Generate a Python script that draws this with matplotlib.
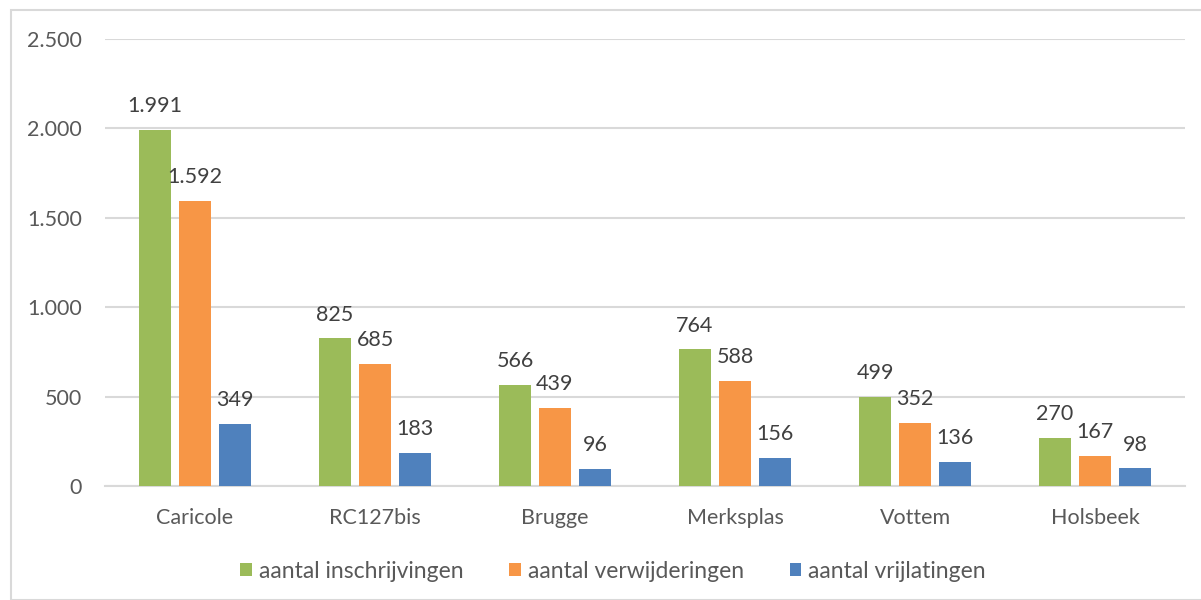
import matplotlib
matplotlib.use("Agg")
import matplotlib.pyplot as plt
from matplotlib.patches import Rectangle
import numpy as np

# data
locaties = ["Caricole", "RC127bis", "Brugge", "Merksplas", "Vottem", "Holsbeek"]
inschrijvingen = [1991, 825, 566, 764, 499, 270]
verwijderingen = [1592, 685, 439, 588, 352, 167]
vrijlatingen = [349, 183, 96, 156, 136, 98]
reeksen = ["aantal inschrijvingen", "aantal verwijderingen", "aantal vrijlatingen"]
kleuren = ["#9bbb59", "#f79646", "#4f81bd"]

plt.rcParams['font.family'] = ['Lato', 'DejaVu Sans']
tekst = "#595959"

fig = plt.figure(figsize=(12.01, 6), dpi=100)
ax = fig.add_axes([105/1201, 1 - 486/600, 1080/1201, 447/600])

# figure border like the excel chart frame
fig.patches.append(Rectangle((11/1201, 0), 1.0, 1 - 10/600, transform=fig.transFigure,
                             fill=False, edgecolor="#d9d9d9", linewidth=1.5))

x = np.arange(len(locaties))
breedte = 0.175
stap = 0.222
for i, (waarden, naam, kleur) in enumerate(zip([inschrijvingen, verwijderingen, vrijlatingen], reeksen, kleuren)):
    pos = x + (i - 1) * stap
    ax.bar(pos, waarden, breedte, color=kleur, label=naam, zorder=3)
    for p, w in zip(pos, waarden):
        ax.annotate(f"{w:,}".replace(",", "."), (p, w), xytext=(0, 10), textcoords="offset points",
                    ha="center", va="bottom", fontsize=15.5, color="#404040")

ax.set_xlim(-0.5, len(locaties) - 0.5)
ax.set_ylim(0, 2500)
ax.set_yticks(range(0, 2501, 500))
ax.set_yticklabels([f"{v:,}".replace(",", ".") for v in range(0, 2501, 500)])
ax.set_xticks(x)
ax.set_xticklabels(locaties)
ax.yaxis.grid(True, color="#d9d9d9", linewidth=1.5, zorder=0)
ax.tick_params(axis="both", length=0, labelsize=15.5, colors=tekst)
ax.tick_params(axis="y", pad=16.5)
ax.tick_params(axis="x", pad=16)
for s in ["top", "right", "left"]:
    ax.spines[s].set_visible(False)
ax.spines["bottom"].set_color("#d9d9d9")
ax.spines["bottom"].set_linewidth(1.5)

leg = fig.legend(loc="center", bbox_to_anchor=(613/1201, 1 - 571/600), ncol=3, frameon=False,
                 fontsize=16.5, handlelength=0.5, handleheight=0.5, handletextpad=0.3, columnspacing=2.0)
for t in leg.get_texts():
    t.set_color(tekst)

fig.savefig("out.png", dpi=100)
